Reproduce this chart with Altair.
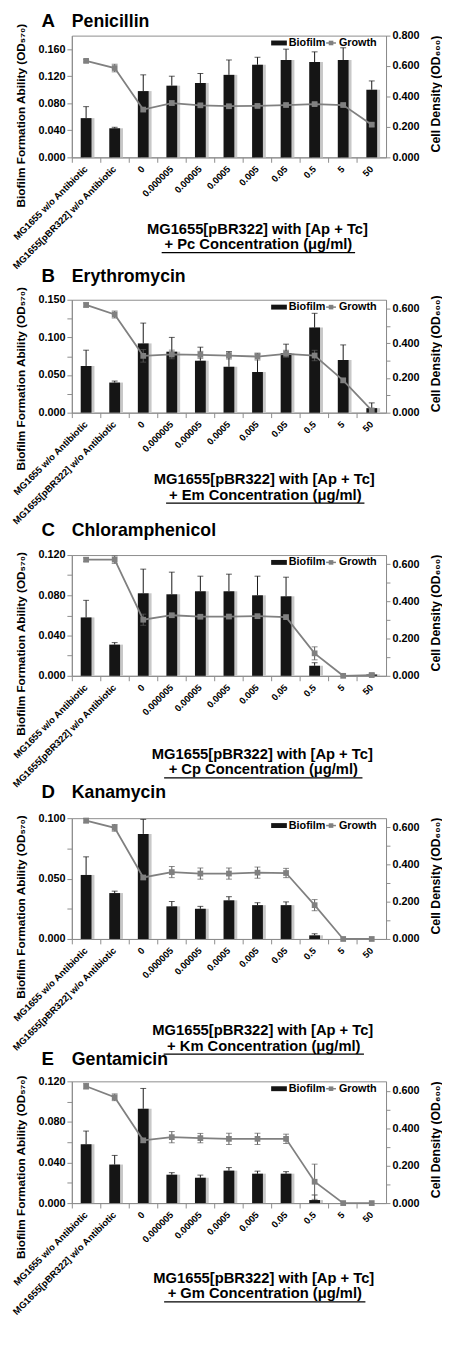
import altair as alt
import pandas as pd

# ---------------- data ----------------
categories = ["MG1655 w/o Antibiotic", "MG1655[pBR322] w/o Antibiotic", "0", "0.000005",
              "0.00005", "0.0005", "0.005", "0.05", "0.5", "5", "50"]

panel_letters = ["A", "B", "C", "D", "E"]
antibiotics = ["Penicillin", "Erythromycin", "Chloramphenicol", "Kanamycin", "Gentamicin"]
abbreviations = ["Pc", "Em", "Cp", "Km", "Gm"]

pc_biofilm = [0.058, 0.043, 0.098, 0.106, 0.110, 0.122, 0.137, 0.144, 0.141, 0.144, 0.100]
pc_biofilm_err = [0.017, 0.0015, 0.024, 0.014, 0.014, 0.022, 0.011, 0.016, 0.015, 0.018, 0.013]
pc_growth = [0.634, 0.587, 0.314, 0.357, 0.342, 0.336, 0.338, 0.344, 0.350, 0.344, 0.215]
pc_growth_err = [0.008, 0.025, 0.01, 0.015, 0.01, 0.01, 0.01, 0.01, 0.01, 0.01, 0.01]

em_biofilm = [0.062, 0.040, 0.092, 0.081, 0.069, 0.061, 0.054, 0.079, 0.113, 0.070, 0.006]
em_biofilm_err = [0.021, 0.002, 0.027, 0.019, 0.018, 0.020, 0.024, 0.012, 0.019, 0.020, 0.007]
em_growth = [0.620, 0.565, 0.327, 0.335, 0.333, 0.329, 0.323, 0.339, 0.329, 0.186, 0.013]
em_growth_err = [0.012, 0.02, 0.036, 0.025, 0.02, 0.02, 0.02, 0.02, 0.03, 0.012, 0.01]

cp_biofilm = [0.058, 0.031, 0.082, 0.081, 0.084, 0.084, 0.080, 0.079, 0.010, 0.0, 0.0013]
cp_biofilm_err = [0.017, 0.002, 0.024, 0.022, 0.015, 0.017, 0.019, 0.019, 0.003, 0.0, 0.0013]
cp_growth = [0.625, 0.625, 0.302, 0.326, 0.318, 0.319, 0.321, 0.316, 0.121, 0.0, 0.004]
cp_growth_err = [0.01, 0.02, 0.03, 0.01, 0.01, 0.01, 0.01, 0.01, 0.035, 0.0, 0.005]

km_biofilm = [0.053, 0.038, 0.087, 0.027, 0.025, 0.032, 0.028, 0.028, 0.003, 0.0, 0.0]
km_biofilm_err = [0.015, 0.0016, 0.012, 0.004, 0.002, 0.003, 0.002, 0.0027, 0.0013, 0.0, 0.0]
km_growth = [0.637, 0.598, 0.331, 0.360, 0.352, 0.352, 0.357, 0.355, 0.182, 0.0, 0.0]
km_growth_err = [0.012, 0.018, 0.01, 0.03, 0.03, 0.03, 0.03, 0.025, 0.03, 0.0, 0.0]

gm_biofilm = [0.058, 0.038, 0.093, 0.028, 0.025, 0.032, 0.029, 0.029, 0.003, 0.0, 0.0]
gm_biofilm_err = [0.013, 0.009, 0.020, 0.002, 0.0026, 0.003, 0.0025, 0.002, 0.005, 0.0, 0.0]
gm_growth = [0.624, 0.565, 0.335, 0.352, 0.347, 0.343, 0.343, 0.343, 0.114, 0.0, 0.0]
gm_growth_err = [0.015, 0.018, 0.01, 0.03, 0.025, 0.03, 0.03, 0.025, 0.094, 0.0, 0.0]

biofilm_sets = [pc_biofilm, em_biofilm, cp_biofilm, km_biofilm, gm_biofilm]
biofilm_err_sets = [pc_biofilm_err, em_biofilm_err, cp_biofilm_err, km_biofilm_err, gm_biofilm_err]
growth_sets = [pc_growth, em_growth, cp_growth, km_growth, gm_growth]
growth_err_sets = [pc_growth_err, em_growth_err, cp_growth_err, km_growth_err, gm_growth_err]

left_max = [0.18, 0.15, 0.12, 0.10, 0.12]
left_ticks = [
    [0, 0.04, 0.08, 0.12, 0.16],
    [0, 0.025, 0.05, 0.075, 0.1, 0.125, 0.15],
    [0, 0.02, 0.04, 0.06, 0.08, 0.1, 0.12],
    [0, 0.025, 0.05, 0.075, 0.1],
    [0, 0.02, 0.04, 0.06, 0.08, 0.1, 0.12],
]
left_label_step = [0.04, 0.05, 0.04, 0.05, 0.04]
right_max = [0.8, 0.65, 0.65, 0.65, 0.65]
right_ticks = [
    [0, 0.2, 0.4, 0.6, 0.8],
    [0, 0.1, 0.2, 0.3, 0.4, 0.5, 0.6],
    [0, 0.1, 0.2, 0.3, 0.4, 0.5, 0.6],
    [0, 0.1, 0.2, 0.3, 0.4, 0.5, 0.6],
    [0, 0.1, 0.2, 0.3, 0.4, 0.5, 0.6],
]
right_label_step = [0.2, 0.2, 0.2, 0.2, 0.2]

series_names = ["Biofilm", "Growth"]
x_title_line1 = "MG1655[pBR322] with [Ap + Tc]"
x_title_line2 = "+ {} Concentration (μg/ml)"
y_left_title = "Biofilm Formation Ability (OD₅₇₀)"
y_right_title = "Cell Density (OD₆₀₀)"

# ---------------- layout / style ----------------
FONT = "Liberation Sans"
W = 320
HEIGHTS = [124, 115, 123, 123, 124]
TITLE_BASE = [-9.0, -18.5, -19.7, -20.7, -16.7]
XT_BASE = [77.6, 72.7, 84.4, 97.7, 81.0]
XT_CX = [189, 196, 194, 194.5, 195.5]
UL_W = [197, 202, 202, 204, 205]
YL_TITLE_Y = [81, 80, 90, 90, 87]
BAR = "#151515"
GRAY = "#808080"
AXC = "#8c8c8c"


def one(text):
    return pd.DataFrame({"t": [text]})


def text_mark(text, x, y, size, align="left", baseline="alphabetic", color="black"):
    return alt.Chart(one(text)).mark_text(
        align=align, baseline=baseline, fontSize=size, fontWeight="bold", font=FONT, color=color
    ).encode(text="t:N", x=alt.value(x), y=alt.value(y))


def label_expr(step):
    s = repr(step)
    return ("abs(datum.value / " + s + " - round(datum.value / " + s + ")) < 0.001"
            " ? format(datum.value, '.3f') : ''")


def panel(i):
    H = HEIGHTS[i]
    df = pd.DataFrame({
        "cat": categories,
        "bio": biofilm_sets[i],
        "bio_err": biofilm_err_sets[i],
        "gr": growth_sets[i],
        "gr_err": growth_err_sets[i],
    })
    df["bio_hi"] = df["bio"] + df["bio_err"]
    df["gr_lo"] = df["gr"] - df["gr_err"]
    df["gr_hi"] = df["gr"] + df["gr_err"]

    xaxis = alt.Axis(title=None, labelAngle=-45, labelAlign="right", labelBaseline="middle",
                     labelFontSize=9.6, labelPadding=5, bandPosition=0,
                     tickSize=5, labelOverlap=False, labelLimit=400)
    x = alt.X("cat:N", scale=alt.Scale(domain=categories, paddingInner=0, paddingOuter=0), axis=xaxis)

    lscale = alt.Scale(domain=[0, left_max[i]], nice=False, zero=True)
    laxis = alt.Axis(title=y_left_title, orient="left", values=left_ticks[i],
                     labelExpr=label_expr(left_label_step[i]),
                     tickSize=5, labelPadding=2, labelFontSize=11, titleFontSize=12,
                     titleAngle=270, titleX=-52, titleY=YL_TITLE_Y[i],
                     titleBaseline="middle", titleAlign="center")
    rscale = alt.Scale(domain=[0, right_max[i]], nice=False, zero=True)
    raxis = alt.Axis(title=y_right_title, orient="right", values=right_ticks[i],
                     labelExpr=label_expr(right_label_step[i]), tickSize=4, labelPadding=2,
                     labelFontSize=11, titleFontSize=12.5, titleAngle=270, titleX=50,
                     titleY=H / 2 - 3, titleBaseline="middle", titleAlign="center")

    base = alt.Chart(df)
    shadow = base.mark_bar(size=11, color="#c8c8c8", xOffset=3).encode(
        x=x, y=alt.Y("bio:Q", scale=lscale, axis=laxis))
    bars = base.mark_bar(size=11, color=BAR).encode(
        x=x, y=alt.Y("bio:Q", scale=lscale, axis=laxis))
    berr = base.transform_filter("datum.bio_err > 0").mark_rule(color=BAR, strokeWidth=1).encode(
        x=x, y=alt.Y("bio:Q", scale=lscale, axis=laxis), y2="bio_hi:Q")
    bcap = base.transform_filter("datum.bio_err > 0").mark_tick(color=BAR, thickness=1, size=6).encode(
        x=x, y=alt.Y("bio_hi:Q", scale=lscale, axis=laxis))
    bio_layer = alt.layer(shadow, bars, berr, bcap)

    gerr = base.transform_filter("datum.gr_err > 0").mark_rule(color="#5a5a5a", strokeWidth=1).encode(
        x=x, y=alt.Y("gr_lo:Q", scale=rscale, axis=raxis), y2="gr_hi:Q")
    gcap1 = base.transform_filter("datum.gr_err > 0").mark_tick(color="#5a5a5a", thickness=1, size=6).encode(
        x=x, y=alt.Y("gr_lo:Q", scale=rscale, axis=raxis))
    gcap2 = base.transform_filter("datum.gr_err > 0").mark_tick(color="#5a5a5a", thickness=1, size=6).encode(
        x=x, y=alt.Y("gr_hi:Q", scale=rscale, axis=raxis))
    gline = base.mark_line(color=GRAY, strokeWidth=1.8).encode(
        x=x, y=alt.Y("gr:Q", scale=rscale, axis=raxis))
    gpts = base.mark_square(size=34, color=GRAY, opacity=1).encode(
        x=x, y=alt.Y("gr:Q", scale=rscale, axis=raxis))
    growth_layer = alt.layer(gerr, gcap1, gcap2, gline, gpts)

    # legend (inside top-right)
    ly = 7.5
    leg_rect = alt.Chart(one("r")).mark_rect(color=BAR).encode(
        x=alt.value(203), x2=alt.value(219), y=alt.value(ly - 2.5), y2=alt.value(ly + 2.5))
    leg_line = alt.Chart(one("l")).mark_rule(color=GRAY, strokeWidth=1.5).encode(
        x=alt.value(259), x2=alt.value(269), y=alt.value(ly))
    leg_pt = alt.Chart(one("p")).mark_square(size=22, color=GRAY, opacity=1).encode(
        x=alt.value(264), y=alt.value(ly))
    leg_t1 = text_mark(series_names[0], 221, ly, 11, baseline="middle")
    leg_t2 = text_mark(series_names[1], 272, ly, 11, baseline="middle")

    # panel heading
    letter = text_mark(panel_letters[i], -31, TITLE_BASE[i], 19)
    name = text_mark(antibiotics[i], 0, TITLE_BASE[i], 18)

    # x title (two lines, second underlined)
    y1 = H + XT_BASE[i]
    y2 = y1 + 16
    xt1 = text_mark(x_title_line1, XT_CX[i], y1, 15, align="center")
    xt2 = text_mark(x_title_line2.format(abbreviations[i]), XT_CX[i] + 1, y2, 15, align="center")
    ul = alt.Chart(one("u")).mark_rule(color="black", strokeWidth=1.3).encode(
        x=alt.value(XT_CX[i] + 1 - UL_W[i] / 2), x2=alt.value(XT_CX[i] + 1 + UL_W[i] / 2),
        y=alt.value(y2 + 3.5))

    data_part = alt.layer(bio_layer, growth_layer).resolve_scale(y="independent")
    deco = alt.layer(leg_rect, leg_line, leg_pt, leg_t1, leg_t2, letter, name, xt1, xt2, ul)
    return alt.layer(data_part, deco).properties(width=W, height=H)


chart = alt.vconcat(*[panel(i) for i in range(5)], spacing=145, bounds="flush").properties(
    padding={"left": 1, "top": -9, "right": 0, "bottom": -5}
).configure(font=FONT).configure_view(stroke=AXC, strokeWidth=1).configure_axis(
    grid=False, labelFont=FONT, titleFont=FONT, labelFontWeight="bold", titleFontWeight="bold",
    labelColor="black", titleColor="black", domainColor=AXC, tickColor=AXC
)

chart.save("out.html", embed_options={"renderer": "svg", "actions": False})
